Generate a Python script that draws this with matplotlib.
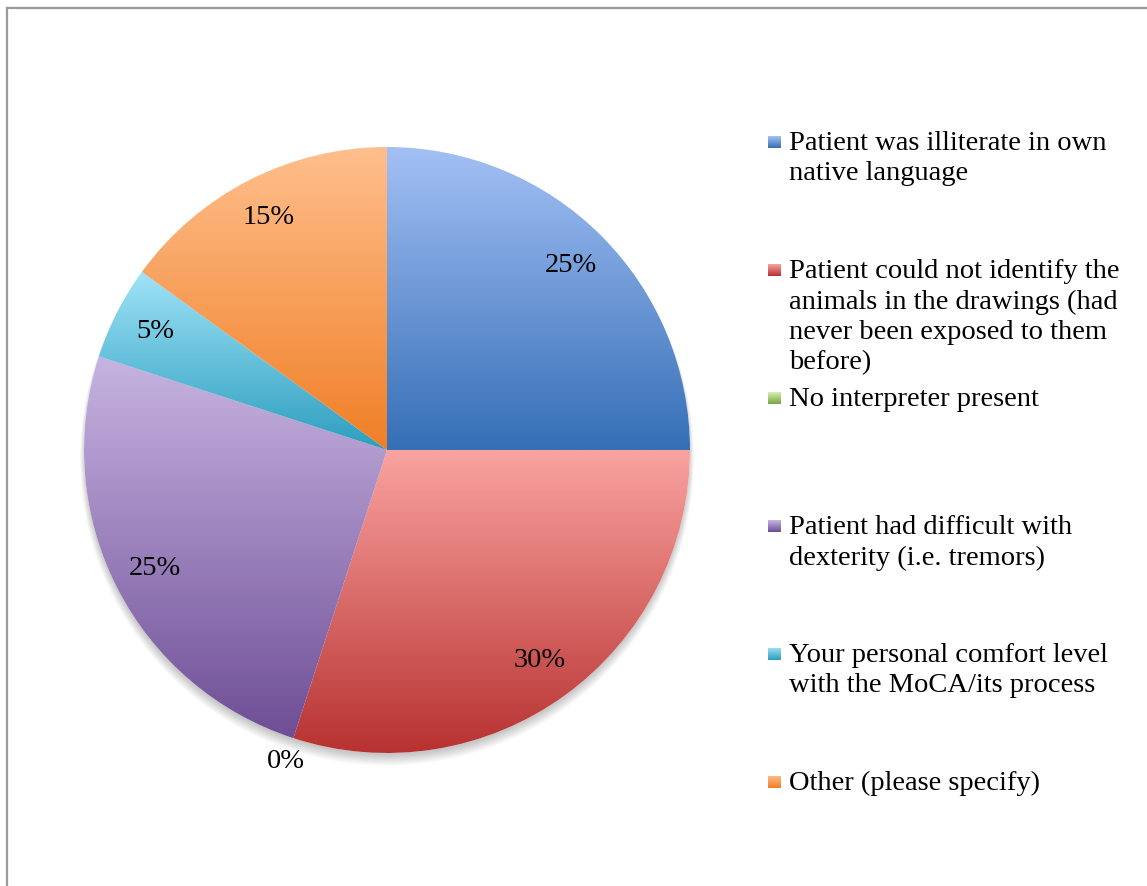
import numpy as np
import matplotlib
matplotlib.use("Agg")
from matplotlib import pyplot as plt
from matplotlib.colors import LinearSegmentedColormap
from matplotlib.patches import Circle
from matplotlib.lines import Line2D

# survey answers and their share of responses
labels = ["Patient was illiterate in own\nnative language",
          "Patient could not identify the\nanimals in the drawings (had\nnever been exposed to them\nbefore)",
          "No interpreter present",
          "Patient had difficult with\ndexterity (i.e. tremors)",
          "Your personal comfort level\nwith the MoCA/its process",
          "Other (please specify)"]
values = [25, 30, 0, 25, 5, 15]

# gradient (top colour, bottom colour) per slice
tops = ["#a3c0f5", "#faa3a0", "#d3f0ae", "#c7b4e1", "#a0e3f8", "#ffbf8d"]
bottoms = ["#356fb6", "#b73231", "#78a543", "#6e4e96", "#2c9ebf", "#f07f26"]

plt.rcParams['font.family'] = ['Liberation Serif', 'DejaVu Serif']
FS = 20.5

W, H = 1147, 886
fig = plt.figure(figsize=(W / 100, H / 100), dpi=100)

# frame of the chart area (right and bottom edges are cut off)
fig.add_artist(Line2D([7.5 / W, 7.5 / W], [0, 1 - 7.5 / H], color="#9a9a9a", lw=1.6))
fig.add_artist(Line2D([7.5 / W, 1], [1 - 7.5 / H, 1 - 7.5 / H], color="#9a9a9a", lw=1.6))

cx, cy, r = 387, 450, 303
ax = fig.add_axes([(cx - r) / W, (H - cy - r) / H, 2 * r / W, 2 * r / H])
ax.set_xlim(-1, 1)
ax.set_ylim(-1, 1)
ax.axis("off")

# soft shadow under the pie
for k in range(10):
    ax.add_patch(Circle((0, -0.010 - k * 0.002), 0.995 + k * 0.002,
                        color="black", alpha=0.022, lw=0, zorder=0,
                        clip_on=False))

wedges, texts, autotexts = ax.pie(values, startangle=90, counterclock=False,
                                  autopct=lambda p: "%d%%" % round(p),
                                  pctdistance=0.86, radius=1,
                                  wedgeprops=dict(facecolor="white", linewidth=0),
                                  textprops=dict(fontsize=FS, color="black"))
ax.set_xlim(-1, 1)
ax.set_ylim(-1, 1)

for i, w in enumerate(wedges):
    if values[i] == 0:
        continue
    ext = w.get_path().get_extents()
    cmap = LinearSegmentedColormap.from_list("g%d" % i, [bottoms[i], tops[i]])
    grad = np.linspace(0, 1, 256).reshape(-1, 1)
    im = ax.imshow(grad, cmap=cmap, origin="lower", aspect="auto",
                   extent=[ext.x0, ext.x1, ext.y0, ext.y1], zorder=2,
                   interpolation="bilinear")
    im.set_clip_path(w)

for t in autotexts:
    t.set_zorder(5)

# push the 0% label outside the pie
for i, t in enumerate(autotexts):
    if values[i] == 0:
        x, y = t.get_position()
        t.set_position((x * 1.08 / 0.86, y * 1.08 / 0.86))

# legend drawn by hand with gradient squares
for i, lab in enumerate(labels):
    ymid = 142 + 128 * i
    sq = fig.add_axes([768 / W, (H - ymid - 6) / H, 12 / W, 12 / H])
    cmap = LinearSegmentedColormap.from_list("l%d" % i, [bottoms[i], tops[i]])
    sq.imshow(np.linspace(0, 1, 32).reshape(-1, 1), cmap=cmap, origin="lower",
              aspect="auto", extent=[0, 1, 0, 1])
    sq.axis("off")
    fig.text(789 / W, (H - ymid + 11) / H, lab, fontsize=FS, va="top",
             ha="left", linespacing=1.28)

fig.savefig("out.png", dpi=100)
